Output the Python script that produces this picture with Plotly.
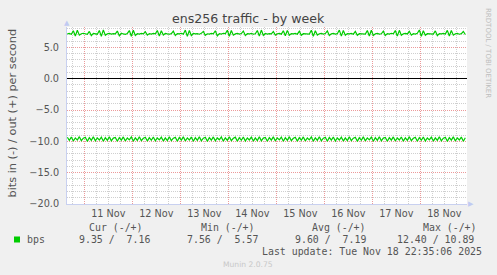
import pandas as pd
import plotly.graph_objects as go

# ---- data ----
start_time = "2025-11-10 15:30"
n_points = 200
times = pd.date_range(start_time, periods=n_points, freq="h")

out_bps = [
    7.15,7.22,7.10,7.65,6.80,7.72,6.95,7.18,7.25,7.12,7.08,7.55,6.88,7.22,7.17,7.10,7.70,6.75,7.78,6.92,
    7.18,7.24,7.12,7.20,7.15,7.60,6.85,7.25,7.14,7.08,7.22,7.68,6.78,7.74,6.90,7.18,7.12,7.22,7.15,7.50,
    6.95,7.20,7.11,7.24,7.16,7.70,6.80,7.64,6.98,7.22,7.14,7.10,7.18,7.58,6.90,7.20,7.15,7.25,7.11,7.76,
    6.76,7.70,6.88,7.22,7.14,7.18,7.10,7.24,7.55,6.92,7.17,7.12,7.22,7.15,7.65,6.82,7.20,7.11,7.25,7.18,
    7.74,6.78,7.68,6.94,7.15,7.22,7.11,7.20,7.60,6.88,7.18,7.14,7.24,7.10,7.17,7.70,6.80,7.76,6.92,7.22,
    7.12,7.20,7.15,7.52,6.95,7.18,7.24,7.11,7.66,6.84,7.71,6.93,7.20,7.14,7.22,7.10,7.57,6.92,7.18,7.15,
    7.24,7.12,7.73,6.77,7.64,6.96,7.17,7.22,7.11,7.20,7.62,6.88,7.15,7.24,7.12,7.18,7.76,6.79,7.68,6.94,
    7.20,7.14,7.22,7.10,7.54,6.92,7.18,7.15,7.24,7.12,7.70,6.82,7.74,6.90,7.18,7.22,7.11,7.17,7.59,6.90,
    7.20,7.12,7.25,7.15,7.68,6.79,7.72,6.93,7.17,7.22,7.14,7.56,6.94,7.18,7.11,7.24,7.77,6.78,7.66,6.92,
    7.18,7.14,7.22,7.11,7.63,6.88,7.20,7.15,7.24,7.12,7.71,6.81,7.69,6.95,7.17,7.22,7.10,7.18,7.53,7.05,
]

in_bps = [
    -9.35,-9.85,-9.30,-9.95,-9.45,-9.80,-9.25,-9.90,-9.50,-9.35,-10.0,-9.40,-9.85,-9.28,-9.92,-9.45,-9.78,-9.32,-9.98,-9.42,
    -9.84,-9.26,-9.91,-9.48,-9.37,-9.99,-9.39,-9.81,-9.29,-9.94,-9.46,-9.76,-9.31,-9.97,-9.43,-9.86,-9.27,-9.89,-9.51,-9.34,
    -9.96,-9.41,-9.83,-9.30,-9.93,-9.47,-9.77,-9.33,-9.96,-9.44,-9.87,-9.25,-9.90,-9.49,-9.36,-10.0,-9.38,-9.80,-9.28,-9.95,
    -9.45,-9.79,-9.32,-9.98,-9.42,-9.84,-9.26,-9.92,-9.50,-9.35,-10.0,-9.40,-9.82,-9.29,-9.91,-9.46,-9.75,-9.31,-9.97,-9.43,
    -9.85,-9.27,-9.89,-9.52,-9.34,-9.99,-9.41,-9.83,-9.30,-9.94,-9.47,-9.78,-9.33,-9.96,-9.44,-9.88,-9.26,-9.91,-9.48,-9.37,
    -9.99,-9.39,-9.81,-9.28,-9.93,-9.45,-9.76,-9.32,-9.98,-9.42,-9.86,-9.25,-9.90,-9.51,-9.35,-9.97,-9.40,-9.82,-9.29,-9.95,
    -9.46,-9.77,-9.31,-9.97,-9.43,-9.84,-9.27,-9.92,-9.49,-9.36,-10.0,-9.38,-9.80,-9.30,-9.94,-9.47,-9.79,-9.33,-9.96,-9.44,
    -9.87,-9.26,-9.89,-9.50,-9.34,-10.0,-9.41,-9.83,-9.28,-9.93,-9.45,-9.76,-9.32,-9.98,-9.42,-9.85,-9.27,-9.91,-9.48,-9.37,
    -9.99,-9.40,-9.81,-9.29,-9.95,-9.46,-9.78,-9.31,-9.97,-9.43,-9.86,-9.25,-9.90,-9.52,-9.35,-9.98,-9.39,-9.82,-9.30,-9.94,
    -9.47,-9.77,-9.33,-9.96,-9.44,-9.84,-9.27,-9.92,-9.50,-9.36,-10.0,-9.40,-9.80,-9.28,-9.93,-9.45,-9.79,-9.32,-9.98,-9.42,
]

x_range = ["2025-11-10 15:20", "2025-11-18 23:20"]
y_range = [-20, 8.25]

title_text = "ens256 traffic - by week"
y_title = "bits in (-) / out (+) per second"
series_name = "bps"
col_headers = ["Cur (-/+)", "Min (-/+)", "Avg (-/+)", "Max (-/+)"]
col_values = ["9.35 /  7.16", "7.56 /  5.57", "9.60 /  7.19", "12.40 / 10.89"]
last_update = "Last update: Tue Nov 18 22:35:06 2025"
footer = "Munin 2.0.75"
watermark = "RRDTOOL / TOBI OETIKER"

GREEN = "#00CC00"
W, H = 497, 275
L, R, T, B = 67, 30, 27, 71
PW, PH = W - L - R, H - T - B


def px(x):
    return (x - L) / PW


def py(y):
    return (H - B - y) / PH


fig = go.Figure()
fig.add_trace(go.Scatter(x=times, y=out_bps, mode="lines",
                         line=dict(color=GREEN, width=1.2), hoverinfo="skip"))
fig.add_trace(go.Scatter(x=times, y=in_bps, mode="lines",
                         line=dict(color=GREEN, width=1.2), hoverinfo="skip"))

tickfont = dict(family="DejaVu Sans", size=9.7, color="#555555")
fig.update_layout(
    width=W, height=H,
    margin=dict(l=L, r=R, t=T, b=B, pad=0),
    paper_bgcolor="#F0F0F0", plot_bgcolor="#FFFFFF",
    showlegend=False,
    xaxis=dict(
        type="date", range=x_range,
        tick0="2025-11-11", dtick=86400000,
        ticklabelmode="period", tickformat="%d %b",
        ticks="", tickfont=tickfont,
        showgrid=True, gridcolor="rgba(230,120,120,0.75)", griddash="1px,1px", gridwidth=1,
        minor=dict(dtick=6 * 3600000, tick0="2025-11-11", showgrid=True,
                   gridcolor="rgba(175,175,175,0.6)", griddash="1px,1px", gridwidth=1),
        showline=True, linecolor="#C8D0F0", linewidth=1,
        zeroline=False, fixedrange=True,
    ),
    yaxis=dict(
        range=y_range, tick0=0, dtick=5, tickformat=".1f",
        ticks="", tickfont=tickfont, ticklabelstandoff=5,
        showgrid=True, gridcolor="rgba(230,120,120,0.75)", griddash="1px,1px", gridwidth=1,
        minor=dict(dtick=1, tick0=0, showgrid=True,
                   gridcolor="rgba(175,175,175,0.6)", griddash="1px,1px", gridwidth=1),
        showline=True, linecolor="#C8D0F0", linewidth=1,
        zeroline=True, zerolinecolor="#000000", zerolinewidth=1,
        fixedrange=True,
    ),
)

mono = dict(family="DejaVu Sans Mono", size=9.9, color="#555555")
ann = []


def add_text(text, x, y, font, xanchor="left", yanchor="middle", angle=0):
    ann.append(dict(text=text, x=px(x), y=py(y), xref="paper", yref="paper",
                    xanchor=xanchor, yanchor=yanchor, showarrow=False,
                    font=font, textangle=angle, borderpad=0, borderwidth=0))


add_text(title_text, 248.5, 18.5, dict(family="DejaVu Sans", size=12.6, color="#444444"),
         xanchor="center")
add_text(y_title, 12, 113.5, dict(family="DejaVu Sans", size=11.3, color="#555555"),
         xanchor="center", angle=-90)
add_text(watermark, 488, 53, dict(family="DejaVu Sans", size=7, color="#BDBDBD"),
         xanchor="center", angle=90)

header_x = [89.3, 200.7, 312.0, 422.7]
value_x = [78.7, 186.7, 294.7, 397.3]
for hx, htxt in zip(header_x, col_headers):
    add_text(htxt, hx, 227.7, mono)
add_text(series_name, 26.7, 240, mono)
for vx, vtxt in zip(value_x, col_values):
    add_text(vtxt, vx, 240, mono)
add_text(last_update, 482.3, 251.3, mono, xanchor="right")
add_text(footer, 248, 264.5, dict(family="DejaVu Sans", size=7.6, color="#C8C8C8"),
         xanchor="center")

# axis arrows
add_text("▲", 66.7, 23.5, dict(family="DejaVu Sans", size=7, color="#C0CAF2"), xanchor="center")
add_text("▶", 470.5, 203.5, dict(family="DejaVu Sans", size=7, color="#C0CAF2"), xanchor="center")

fig.update_layout(annotations=ann)

# legend swatch
fig.add_shape(type="rect", xref="paper", yref="paper",
              x0=px(14), x1=px(20), y0=py(242.5), y1=py(236.5),
              fillcolor=GREEN, line=dict(width=0))

fig.write_html("out.html", config={"displayModeBar": False, "staticPlot": True})
